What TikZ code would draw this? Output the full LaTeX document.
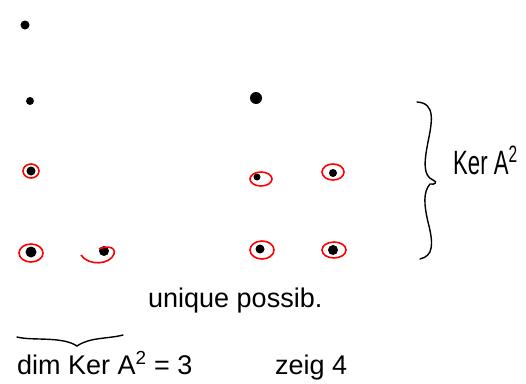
\documentclass[tikz,border=0pt]{standalone}
\usepackage{fontspec}
\setmainfont{Liberation Sans}
\begin{document}
\begin{tikzpicture}[x=1pt,y=-1pt,
  pt/.style={circle,fill=black,inner sep=0pt,minimum size=#1},
  pt/.default=8pt,
  ring/.style={draw=red,line width=1.6pt},
  ink/.style={draw=black,line width=1.4pt,line cap=round},
  hand/.style={font=\fontsize{27}{30}\selectfont,inner sep=0pt,anchor=base west}]
\useasboundingbox (0,0) rectangle (526,383);
% column 1
\node[pt=9pt] (a1) at (25,25) {};
\node[pt=8pt] (a2) at (30,101) {};
\node[pt=9pt] (a3) at (31,171) {};
\node[pt=11pt] (a4) at (31,252) {};
\node[pt=10pt] (a5) at (104,251) {};
% column 2
\node[pt=12pt] (b1) at (256,98) {};
\node[pt=7pt] (b2) at (257,177) {};
\node[pt=8pt] (b3) at (333,173) {};
\node[pt=9pt] (b4) at (260,249) {};
\node[pt=10pt] (b5) at (333,250) {};
% red rings
\draw[ring] (31,171) ellipse (8 and 7);
\draw[ring] (31,253) ellipse (12 and 9);
\draw[ring] (81,255) .. controls (88,266) and (110,265) .. (114,254) .. controls (116,246) and (106,246) .. (99,249);
\draw[ring] (261,179) ellipse (11 and 7);
\draw[ring] (333,172) ellipse (11 and 8);
\draw[ring] (262,250) ellipse (12 and 9);
\draw[ring] (334,250) ellipse (12 and 8);
% vertical brace
\draw[ink] (417,102) .. controls (436,103) and (432,122) .. (428,142)
  .. controls (424,162) and (423,176) .. (433,180)
  .. controls (438,182) and (435,185) .. (430,184)
  .. controls (423,192) and (424,205) .. (428,222)
  .. controls (434,245) and (433,256) .. (420,259);
\node[hand] (ker) at (453,174) {\scalebox{0.82}[1.25]{Ker A\textsuperscript{2}}};
% bottom brace
\draw[ink] (17,337) .. controls (32,341) and (62,336) .. (77,346)
  .. controls (90,337) and (108,339) .. (123,335);
\node[hand] (uni) at (148,307) {unique possib.};
\node[hand] (dim) at (17,374) {dim Ker A\textsuperscript{2} = 3};
\node[hand] (zei) at (275,374) {zeig 4};
\end{tikzpicture}
\end{document}
